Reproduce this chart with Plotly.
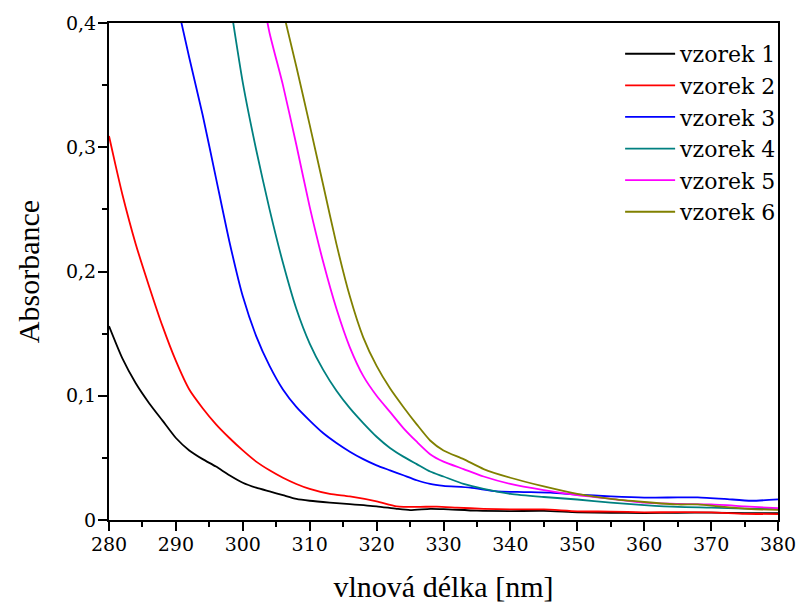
import plotly.graph_objects as go
import plotly.io as pio

pio.templates.default = "none"

# Absorption spectra of six samples (wavelength in nm, absorbance)
wl_1 = [280, 282, 284, 286, 288, 290, 292, 294, 296, 298, 300, 302, 304, 306, 308, 310,
        313, 316, 320, 323, 325, 328, 330, 335, 340, 345, 350, 355, 360, 365, 370, 375, 380]
abs_1 = [0.156, 0.130, 0.110, 0.094, 0.080, 0.066, 0.056, 0.049, 0.043, 0.036, 0.030, 0.026,
         0.023, 0.020, 0.017, 0.0155, 0.0140, 0.0128, 0.0110, 0.0090, 0.0080, 0.0090, 0.0088,
         0.0075, 0.0072, 0.0073, 0.0062, 0.0058, 0.0056, 0.0058, 0.0060, 0.0056, 0.0055]

wl_2 = [280, 281, 282, 284, 286, 288, 290, 292, 294, 296, 298, 300, 302, 304, 306, 308, 310,
        313, 316, 320, 323, 326, 329, 332, 336, 340, 345, 350, 355, 360, 365, 370, 375, 380]
abs_2 = [0.309, 0.285, 0.262, 0.222, 0.188, 0.156, 0.128, 0.105, 0.090, 0.077, 0.066, 0.056,
         0.047, 0.040, 0.034, 0.029, 0.025, 0.021, 0.019, 0.015, 0.011, 0.0105, 0.0108, 0.0100,
         0.0090, 0.0085, 0.0085, 0.0070, 0.0068, 0.0062, 0.0063, 0.0062, 0.0050, 0.0048]

wl_3 = [290, 292, 294, 296, 298, 300, 302, 304, 306, 308, 310, 312, 314, 316, 318, 320,
        322, 324, 326, 328, 330, 334, 338, 342, 346, 350, 355, 360, 365, 368, 372, 376, 380]
abs_3 = [0.42, 0.372, 0.326, 0.275, 0.224, 0.180, 0.148, 0.124, 0.105, 0.091, 0.080, 0.070,
         0.062, 0.055, 0.049, 0.044, 0.040, 0.036, 0.032, 0.029, 0.0275, 0.026, 0.023,
         0.0225, 0.022, 0.0205, 0.019, 0.018, 0.0182, 0.0182, 0.017, 0.0155, 0.0166]

wl_4 = [298, 300, 302, 304, 306, 308, 310, 312, 314, 316, 318, 320, 322, 324, 326, 328, 330,
        333, 336, 340, 345, 350, 355, 360, 365, 370, 375, 380]
abs_4 = [0.42, 0.352, 0.298, 0.250, 0.207, 0.170, 0.142, 0.121, 0.104, 0.090, 0.078, 0.067,
         0.058, 0.051, 0.045, 0.039, 0.035, 0.029, 0.025, 0.021, 0.0185, 0.0165, 0.014, 0.012,
         0.0105, 0.0100, 0.0092, 0.0088]

wl_5 = [303, 304, 306, 308, 310, 312, 314, 316, 318, 320, 322, 324, 326, 328, 330, 333, 336,
        340, 345, 350, 355, 360, 365, 370, 375, 380]
abs_5 = [0.42, 0.392, 0.350, 0.302, 0.252, 0.208, 0.170, 0.139, 0.116, 0.100, 0.087, 0.074,
         0.063, 0.053, 0.047, 0.041, 0.035, 0.029, 0.024, 0.020, 0.017, 0.0140, 0.0130, 0.0125,
         0.0110, 0.0095]

wl_6 = [306, 308, 310, 312, 314, 316, 318, 320, 322, 324, 326, 328, 330, 333, 336, 340, 345,
        350, 355, 360, 365, 368, 372, 376, 380]
abs_6 = [0.41, 0.365, 0.318, 0.270, 0.222, 0.180, 0.147, 0.124, 0.106, 0.091, 0.077, 0.064,
         0.056, 0.049, 0.041, 0.034, 0.027, 0.021, 0.017, 0.0145, 0.0125, 0.0125, 0.0105,
         0.0088, 0.0082]

names = ["vzorek 1", "vzorek 2", "vzorek 3", "vzorek 4", "vzorek 5", "vzorek 6"]
colors = ["#000000", "#ff0000", "#0000ff", "#008080", "#ff00ff", "#808000"]
series = [(wl_1, abs_1), (wl_2, abs_2), (wl_3, abs_3),
          (wl_4, abs_4), (wl_5, abs_5), (wl_6, abs_6)]

title_font = "Liberation Serif"
label_font = "DejaVu Serif"

fig = go.Figure()
for name, color, (x, y) in zip(names, colors, series):
    fig.add_trace(go.Scatter(
        x=x, y=y, mode="lines", name=name,
        line=dict(color=color, width=1.8, shape="spline", smoothing=0.6),
    ))

axis_common = dict(
    showgrid=False, zeroline=False,
    showline=True, linecolor="black", linewidth=2, mirror=True,
    ticks="outside", ticklen=9, tickwidth=1.5, tickcolor="black",
    tickfont=dict(family=label_font, size=19, color="black"),
    automargin=False,
)

fig.update_xaxes(
    range=[280, 380], dtick=10, ticklabelstandoff=-3,
    minor=dict(ticks="outside", ticklen=5, tickwidth=1.5, tickcolor="black", dtick=5),
    title=dict(text="vlnová délka [nm]", font=dict(family=title_font, size=30, color="black"),
               standoff=22),
    **axis_common,
)
fig.update_yaxes(
    range=[0, 0.4], dtick=0.1, ticklabelstandoff=-2,
    minor=dict(ticks="outside", ticklen=5, tickwidth=1.5, tickcolor="black", dtick=0.05),
    title=dict(text="Absorbance", font=dict(family=title_font, size=30, color="black"),
               standoff=17),
    **axis_common,
)

fig.update_layout(
    width=797, height=604,
    margin=dict(l=109, r=19, t=23, b=84),
    paper_bgcolor="white", plot_bgcolor="white",
    separators=", ",
    font=dict(family=label_font, size=19, color="black"),
    legend=dict(
        x=0.764, y=0.98, xanchor="left", yanchor="top",
        bgcolor="rgba(0,0,0,0)", borderwidth=0,
        font=dict(family=label_font, size=22, color="black"),
        itemwidth=50, tracegroupgap=0,
    ),
)

fig.write_html("out.html")
